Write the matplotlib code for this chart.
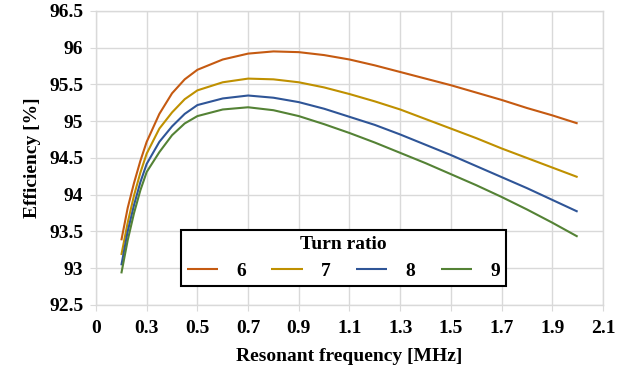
import numpy as np
import matplotlib.pyplot as plt

# Data
freq = [0.2, 0.225, 0.25, 0.275, 0.3, 0.35, 0.4, 0.45, 0.5, 0.6, 0.7, 0.8, 0.9, 1.0,
        1.1, 1.2, 1.3, 1.4, 1.5, 1.6, 1.7, 1.8, 1.9, 2.0]
eff_6 = [93.38, 93.82, 94.16, 94.46, 94.72, 95.10, 95.38, 95.57, 95.70, 95.84, 95.92, 95.95, 95.94, 95.90,
         95.84, 95.76, 95.67, 95.58, 95.49, 95.39, 95.29, 95.18, 95.08, 94.97]
eff_7 = [93.18, 93.62, 93.99, 94.30, 94.56, 94.90, 95.12, 95.30, 95.42, 95.53, 95.58, 95.57, 95.53, 95.46,
         95.37, 95.27, 95.16, 95.03, 94.90, 94.77, 94.63, 94.50, 94.37, 94.24]
eff_8 = [93.04, 93.50, 93.86, 94.17, 94.42, 94.72, 94.93, 95.10, 95.22, 95.31, 95.35, 95.32, 95.26, 95.17,
         95.06, 94.95, 94.82, 94.68, 94.54, 94.39, 94.24, 94.09, 93.93, 93.77]
eff_9 = [92.93, 93.38, 93.75, 94.06, 94.31, 94.58, 94.81, 94.97, 95.07, 95.16, 95.19, 95.15, 95.07, 94.96,
         94.84, 94.71, 94.57, 94.43, 94.28, 94.13, 93.97, 93.80, 93.62, 93.43]

series = [("6", eff_6, "#C55A11"), ("7", eff_7, "#BF9000"),
          ("8", eff_8, "#2F5597"), ("9", eff_9, "#548235")]

x_ticks = [0.1, 0.3, 0.5, 0.7, 0.9, 1.1, 1.3, 1.5, 1.7, 1.9, 2.1]
x_labels = ["0", "0.3", "0.5", "0.7", "0.9", "1.1", "1.3", "1.5", "1.7", "1.9", "2.1"]
y_ticks = [92.5, 93, 93.5, 94, 94.5, 95, 95.5, 96, 96.5]
y_labels = ["92.5", "93", "93.5", "94", "94.5", "95", "95.5", "96", "96.5"]

plt.rcParams["font.family"] = ["Liberation Serif", "DejaVu Serif"]
plt.rcParams["font.weight"] = "bold"
fs = 14

fig = plt.figure(figsize=(6.27, 3.71), dpi=100)
ax = fig.add_axes([0.1531, 0.1779, 0.8086, 0.7925])

for name, vals, col in series:
    ax.plot(freq, vals, color=col, linewidth=1.5, label=name,
            solid_joinstyle="round", solid_capstyle="butt")

ax.set_xlim(0.1, 2.1)
ax.set_ylim(92.5, 96.5)
ax.set_xticks(x_ticks)
ax.set_xticklabels(x_labels)
ax.set_yticks(y_ticks)
ax.set_yticklabels(y_labels)
ax.grid(True, color="#d9d9d9", linewidth=1)
ax.set_axisbelow(True)
for s in ax.spines.values():
    s.set_color("#d9d9d9")
    s.set_linewidth(1)
ax.tick_params(axis="x", colors="#d9d9d9", labelcolor="black", labelsize=fs, length=4, pad=7)
ax.tick_params(axis="y", colors="#d9d9d9", labelcolor="black", labelsize=fs, length=4, pad=5)
for lab in ax.get_xticklabels() + ax.get_yticklabels():
    lab.set_fontweight("bold")

ax.set_xlabel("Resonant frequency [MHz]", fontsize=fs, fontweight="bold", labelpad=8)
ax.set_ylabel("Efficiency [%]", fontsize=fs, fontweight="bold", labelpad=6)

leg = ax.legend(title="Turn ratio", ncol=4, loc="upper left",
                bbox_to_anchor=(0.1677, 0.255), borderaxespad=0,
                fontsize=fs, title_fontproperties={"weight": "bold", "size": fs},
                frameon=True, fancybox=False, edgecolor="black", framealpha=1,
                handlelength=1.6, handletextpad=0.95, columnspacing=1.3,
                borderpad=0.3, labelspacing=0.5)
leg.get_frame().set_linewidth(1.5)
for t in leg.get_texts():
    t.set_fontweight("bold")

fig.savefig("out.png", dpi=100)
